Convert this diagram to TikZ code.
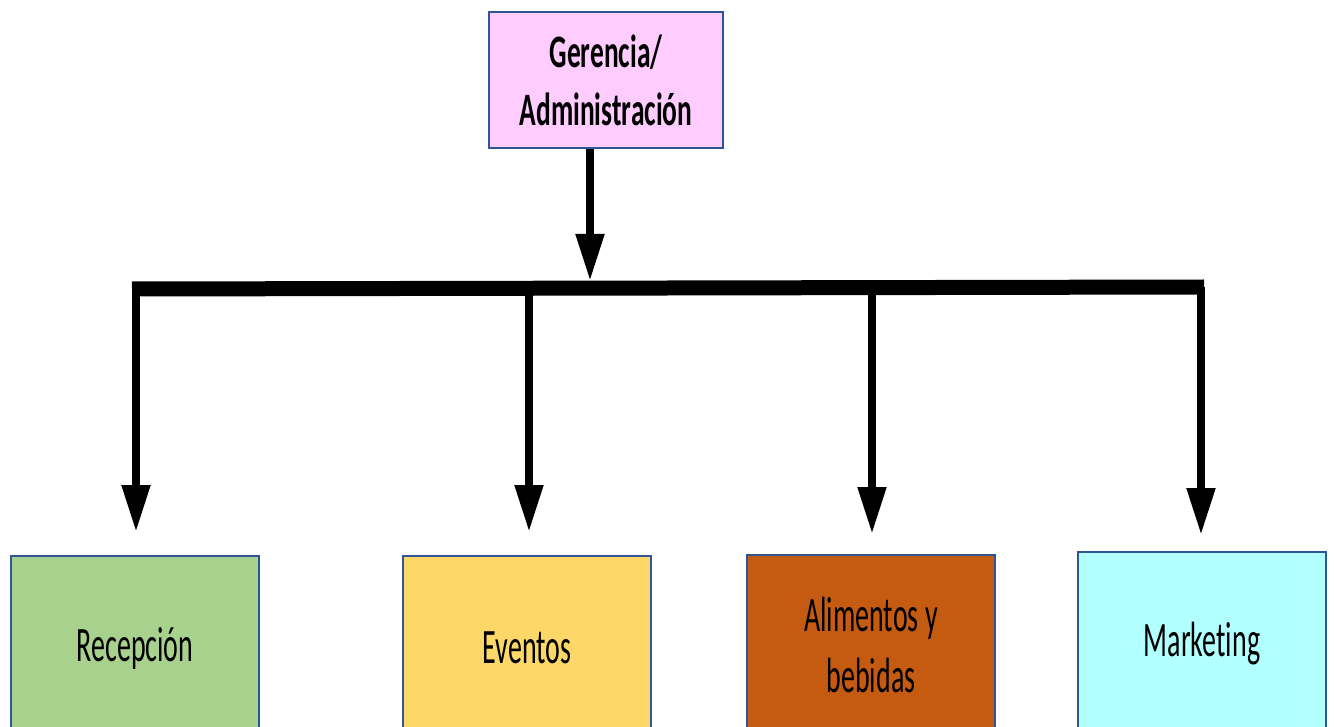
\documentclass[tikz,border=0pt]{standalone}
\usepackage{fontspec}
\setmainfont{Carlito}[FakeStretch=0.565, RawFeature=-liga]
\newfontfamily\headfont{Carlito}[FakeStretch=0.59, RawFeature=-liga]
\usetikzlibrary{arrows.meta}
\definecolor{edgeblue}{HTML}{2F5597}
\definecolor{topfill}{HTML}{FFCCFF}
\definecolor{recfill}{HTML}{A9D18E}
\definecolor{evtfill}{HTML}{FDD868}
\definecolor{foodfill}{HTML}{C55A11}
\definecolor{mktfill}{HTML}{B2FFFF}
\tikzset{
  unitbox/.style={draw=edgeblue, line width=2pt, inner sep=0pt, align=center,
    minimum width=248pt},
  mainbox/.style={unitbox, font=\headfont\fontsize{46.5}{58}\selectfont\bfseries,
    minimum width=234pt, minimum height=136pt},
  deptbox/.style={unitbox, font=\fontsize{49.5}{61}\selectfont, minimum height=184pt},
  flow/.style={line width=8pt, -{Triangle[length=47pt,width=27pt]}},
  busbar/.style={line width=15pt}
}
\begin{document}
\begin{tikzpicture}[x=1pt, y=-1pt]
  \useasboundingbox (0,0) rectangle (1334,727);
  \clip (0,0) rectangle (1334,727);

  % head office
  \node[mainbox, fill=topfill] (top) at (606,80) {Gerencia/\\Administración};

  % departments (their lower edges run past the page)
  \node[deptbox, fill=recfill, anchor=north] (rec) at (135,555) {Recepción};
  \node[deptbox, fill=evtfill, anchor=north] (evt) at (527,555) {Eventos};
  \node[deptbox, fill=foodfill, anchor=north, minimum height=180pt] (food) at (871,554) {Alimentos y\\bebidas};
  \node[deptbox, fill=mktfill, anchor=north] (mkt) at (1202,551) {Marketing};

  % distribution bar
  \coordinate (hub) at (590,288);
  \coordinate (j1) at (136,289);
  \coordinate (j2) at (529,288);
  \coordinate (j3) at (872,288);
  \coordinate (j4) at (1201,287);
  \coordinate (barL) at (132,289);
  \coordinate (barR) at (1204,287);
  \draw[busbar] (barL) -- (barR);

  % connectors
  \draw[flow, shorten >=7pt] (top.south -| hub) -- (hub);
  \draw[flow, shorten >=23pt] (j1) -- (rec.north -| j1);
  \draw[flow, shorten >=23pt] (j2) -- (evt.north -| j2);
  \draw[flow, shorten >=20pt] (j3) -- (food.north -| j3);
  \draw[flow, shorten >=16pt] (j4) -- (mkt.north -| j4);
\end{tikzpicture}
\end{document}
